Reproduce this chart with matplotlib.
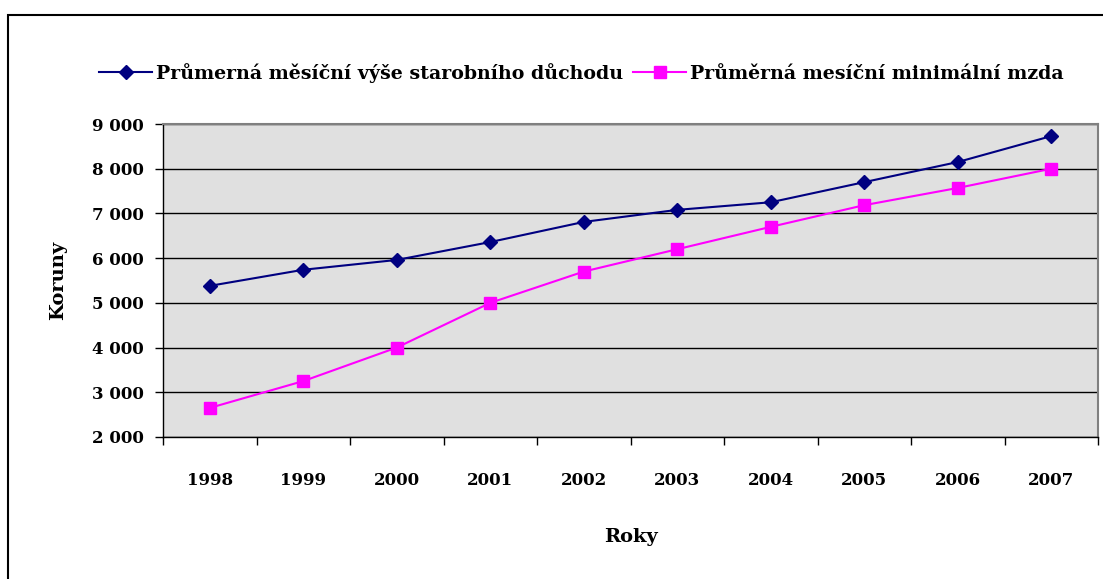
import numpy as np
import matplotlib.pyplot as plt
from matplotlib.patches import Rectangle
from matplotlib.ticker import FuncFormatter

roky = ['1998', '1999', '2000', '2001', '2002', '2003', '2004', '2005', '2006', '2007']
duchod = [5380, 5740, 5960, 6360, 6810, 7080, 7250, 7700, 8150, 8730]
mzda = [2650, 3250, 4000, 5000, 5700, 6200, 6700, 7185, 7570, 8000]
nazvy = ['Průmerná měsíční výše starobního důchodu', 'Průměrná mesíční minimální mzda']

plt.rcParams['font.family'] = ['DejaVu Serif']
plt.rcParams['font.weight'] = 'bold'

fig = plt.figure(figsize=(11.03, 5.79), dpi=100)
ax = fig.add_axes([0.1478, 0.2453, 0.8477, 0.5405])

x = np.arange(len(roky))
ax.plot(x, duchod, color='#000080', marker='D', markersize=7, lw=1.5, label=nazvy[0])
ax.plot(x, mzda, color='#ff00ff', marker='s', markersize=8, lw=1.5, label=nazvy[1])

ax.set_facecolor('#e0e0e0')
ax.set_xlim(-0.5, len(roky) - 0.5)
ax.set_ylim(2000, 9000)
ax.set_yticks(np.arange(2000, 9001, 1000))
ax.yaxis.set_major_formatter(FuncFormatter(lambda v, p: '{:,}'.format(int(v)).replace(',', ' ')))
ax.grid(axis='y', color='black', lw=1)
ax.set_axisbelow(True)

ax.set_xticks(x)
ax.set_xticklabels(roky)
ax.set_xticks(np.arange(-0.5, len(roky)), minor=True)
ax.tick_params(axis='x', which='major', length=0, pad=25, labelsize=12)
ax.tick_params(axis='x', which='minor', length=6, width=1, direction='out')
ax.tick_params(axis='y', length=6, width=1, direction='out', pad=8, labelsize=12)

for s in ['top', 'right']:
    ax.spines[s].set_color('#808080')
    ax.spines[s].set_linewidth(1.5)
for s in ['left', 'bottom']:
    ax.spines[s].set_color('black')
    ax.spines[s].set_linewidth(1)

ax.set_xlabel('Roky', fontsize=14, fontweight='bold', labelpad=28)
ax.set_ylabel('Koruny', fontsize=14, fontweight='bold', labelpad=18)

fig.legend(loc='upper left', bbox_to_anchor=(0.083, 0.905), ncol=2, frameon=False,
           fontsize=13.7, handlelength=2.8, handletextpad=0.2, columnspacing=0.5,
           borderaxespad=0)

fig.patches.append(Rectangle((0.0073, -0.2), 1.5, 1.174, transform=fig.transFigure,
                             fill=False, edgecolor='black', lw=1.5))

fig.savefig('out.png', dpi=100)
